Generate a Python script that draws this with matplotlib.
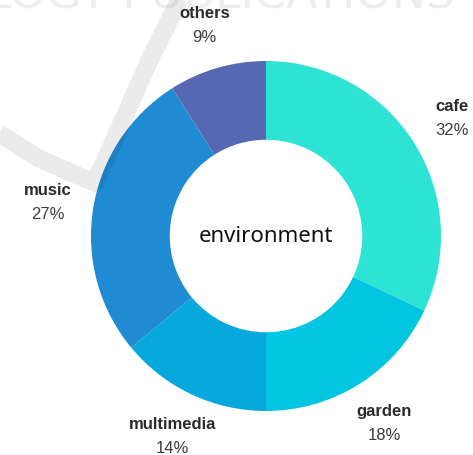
import matplotlib.pyplot as plt
import numpy as np

categories = ['cafe', 'garden', 'multimedia', 'music', 'others']
shares = [32, 18, 14, 27, 9]
colors = ['#2de3d3', '#02c6df', '#07a8dc', '#1f8bd3', '#5568b1']
center_title = 'environment'

W, H = 473, 456
fig = plt.figure(figsize=(W / 100, H / 100), dpi=100)
fig.patch.set_facecolor('white')

ax = fig.add_axes([0, 0, 1, 1])
cx, cy, R = 266, H - 237, 175
ax.pie(shares, colors=colors, startangle=90, counterclock=False,
       center=(cx, cy), radius=R, frame=True,
       wedgeprops=dict(width=R * 0.45, linewidth=0))
ax.set_xlim(0, W)
ax.set_ylim(0, H)
ax.set_aspect('equal')
ax.axis('off')

ax.text(cx, cy, center_title, ha='center', va='center', fontsize=16,
        family='Noto Sans', color='#111111')

# labels around the ring, at the middle angle of each slice
frac = np.array(shares) / np.sum(shares)
ends = np.cumsum(frac)
mids = 90 - 360 * (ends - frac / 2)
for name, pct, ang in zip(categories, shares, mids):
    lx = cx + 1.26 * R * np.cos(np.radians(ang))
    ly = cy + 1.26 * R * np.sin(np.radians(ang))
    ax.text(lx, ly + 12, name, ha='center', va='center', fontsize=12,
            fontweight='bold', family='Liberation Sans', color='#2b2b2b')
    ax.text(lx, ly - 12, f'{pct}%', ha='center', va='center', fontsize=12,
            family='Liberation Sans', color='#3d3d3d')

# faint publisher watermark over the picture
wm = fig.add_axes([0, 0, 1, 1])
wm.set_xlim(0, W)
wm.set_ylim(H, 0)
wm.axis('off')
wm.patch.set_alpha(0)
wm.plot([-5, 40, 95, 150, 190], [132, 160, 184, 60, -20], color='black',
        alpha=0.08, lw=13, solid_capstyle='butt', solid_joinstyle='round')
wm.text(-14, -4, 'LOGY PUBLICATIONS', ha='left', va='center', fontsize=33,
        color='black', alpha=0.07, family='DejaVu Sans')

fig.savefig('out.png', dpi=100)
